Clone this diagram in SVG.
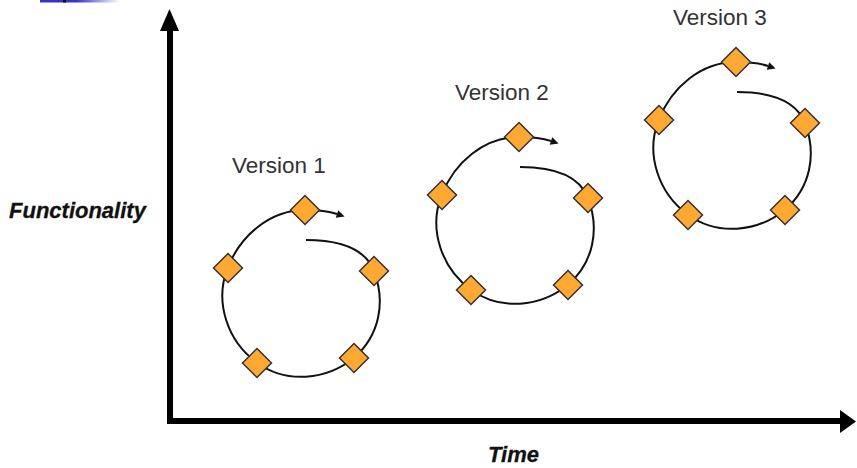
<svg xmlns="http://www.w3.org/2000/svg" width="857" height="468" viewBox="0 0 857 468">
  <style>
    .loop { fill: none; stroke: #111; stroke-width: 2; }
    .dia { fill: #FFA834; stroke: #333; stroke-width: 1.5; }
    .ver { font-family: "Liberation Sans", Arial, sans-serif; font-size: 22.5px; fill: #333; }
    .axl { font-family: "Liberation Sans", Arial, sans-serif; font-size: 22px; font-weight: bold; font-style: italic; fill: #111; stroke: #111; stroke-width: 0.3; }
    .axis { stroke: #000; stroke-width: 6; fill: none; }
  </style>
  <defs>
    <linearGradient id="bar" x1="0" y1="0" x2="1" y2="0">
      <stop offset="0" stop-color="#3434C8"/>
      <stop offset="0.45" stop-color="#3434C8"/>
      <stop offset="1" stop-color="#ffffff"/>
    </linearGradient>
    <marker id="ah" viewBox="0 0 10 10" refX="0" refY="5" markerUnits="userSpaceOnUse" markerWidth="9" markerHeight="8" orient="auto">
      <path d="M0,0 L10,5 L0,10 z" fill="#111"/>
    </marker>
    <path id="spiral" d="M1,30 C28,30 59.3,35.9 69,61.1 C80.9,92.2 74.5,125.6 49.1,147.7 C21.2,170.3 -18.6,174 -48,152.7 C-77.7,131.1 -90.8,92 -77.3,57.9 C-64.5,25.4 -34.9,0 0,0 C15,0 26,2 32,4"/>
    <polygon id="d" points="0,-14.5 14.5,0 0,14.5 -14.5,0"/>
  </defs>

  <rect x="40" y="0" width="80" height="2.5" fill="url(#bar)"/>
  <rect x="63" y="0" width="3" height="2.5" fill="#111"/>

  <g id="axes">
    <line class="axis" x1="170" y1="424" x2="170" y2="28"/>
    <polygon points="169.5,9 160,31 179,31" fill="#000"/>
    <line class="axis" x1="167" y1="421" x2="842" y2="421"/>
    <polygon points="856,421.5 840,410 840,433" fill="#000"/>
    <text class="axl" x="9" y="218">Functionality</text>
    <text class="axl" x="488" y="462">Time</text>
  </g>

  <g id="connectors">
    <use href="#spiral" class="loop" transform="translate(305,210)" marker-end="url(#ah)"/>
    <use href="#spiral" class="loop" transform="translate(519,137)" marker-end="url(#ah)"/>
    <use href="#spiral" class="loop" transform="translate(736,62)" marker-end="url(#ah)"/>
  </g>

  <g id="version1" transform="translate(305,210)">
    <text class="ver" x="-73" y="-37">Version 1</text>
    <use href="#d" class="dia" x="0" y="0"/>
    <use href="#d" class="dia" x="69" y="61"/>
    <use href="#d" class="dia" x="49" y="148"/>
    <use href="#d" class="dia" x="-48" y="153"/>
    <use href="#d" class="dia" x="-77" y="58"/>
  </g>

  <g id="version2" transform="translate(519,137)">
    <text class="ver" x="-64" y="-37">Version 2</text>
    <use href="#d" class="dia" x="0" y="0"/>
    <use href="#d" class="dia" x="69" y="61"/>
    <use href="#d" class="dia" x="49" y="148"/>
    <use href="#d" class="dia" x="-48" y="153"/>
    <use href="#d" class="dia" x="-77" y="58"/>
  </g>

  <g id="version3" transform="translate(736,62)">
    <text class="ver" x="-63" y="-37">Version 3</text>
    <use href="#d" class="dia" x="0" y="0"/>
    <use href="#d" class="dia" x="69" y="61"/>
    <use href="#d" class="dia" x="49" y="148"/>
    <use href="#d" class="dia" x="-48" y="153"/>
    <use href="#d" class="dia" x="-77" y="58"/>
  </g>
</svg>
